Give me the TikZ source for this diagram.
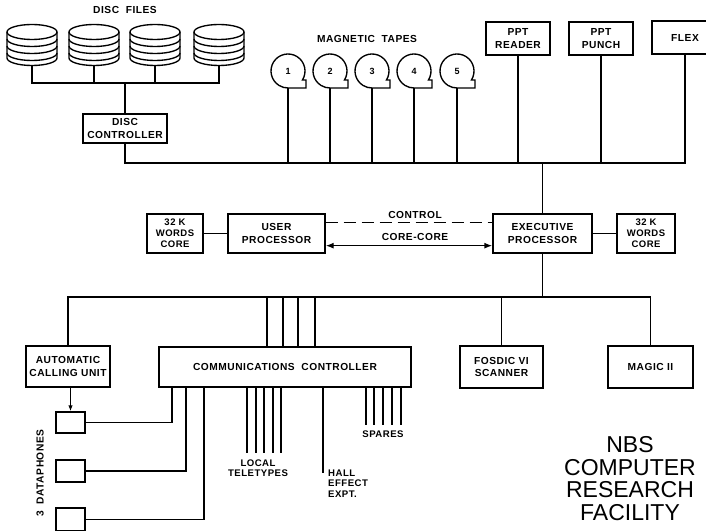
\documentclass[tikz,border=0pt]{standalone}
\usepackage{fontspec}
\setmainfont{Liberation Sans}
\newfontfamily\letfam{Liberation Sans}[LetterSpace=5.0]
\usetikzlibrary{arrows.meta,calc}
\newcommand\lblf{\letfam\bfseries\fontsize{10.2}{12.2}\selectfont}
\newcommand\smlf{\letfam\bfseries\fontsize{9.5}{11.2}\selectfont}
\newcommand\tinyf{\letfam\bfseries\fontsize{9.6}{10.5}\selectfont}
\newcommand\numf{\bfseries\fontsize{9}{10}\selectfont}
\newcommand\bigf{\fontsize{23}{22.8}\selectfont}
\begin{document}
\begin{tikzpicture}[x=1pt,y=1pt,
  ln/.style={line width=1.35pt},
  thin ln/.style={line width=1.2pt},
  box/.style={draw, line width=1.35pt, align=center, inner sep=0pt, font=\lblf},
  lbl/.style={inner sep=0pt, align=center, font=\lblf}]
\useasboundingbox (0,0) rectangle (706,530);
\coordinate (mb) at (0,367);
\coordinate (lb) at (0,233);

% ---------- disc files ----------
\node[lbl] (dfl) at (125,520) {DISC\ \ FILES};
\foreach \cx [count=\i] in {32,94,155,219}{
  \draw[ln, fill=white] (\cx-25,498) -- (\cx-25,472)
     arc[start angle=180,end angle=360,x radius=25,y radius=7.5] -- (\cx+25,498);
  \draw[ln] (\cx,498) ellipse[x radius=25,y radius=7.5];
  \foreach \yy in {491,484,477}
    \draw[ln] (\cx-25,\yy) arc[start angle=180,end angle=360,x radius=25,y radius=7.5];
  \coordinate (d\i) at (\cx,464.5);
}
\coordinate (dbus) at (125,447);
\node[box, minimum width=84pt, minimum height=29pt] (discctl) at (125,401.5) {DISC\\CONTROLLER};
\draw[ln] (d1) -- (d1 |- dbus) -- (d4 |- dbus) -- (d4);
\draw[ln] (d2) -- (d2 |- dbus);
\draw[ln] (d3) -- (d3 |- dbus);
\draw[ln] (dbus) -- (discctl.north);

% ---------- magnetic tapes ----------
\node[lbl] (mtl) at (367,491) {MAGNETIC\ \ TAPES};
\foreach \cx [count=\i] in {288,330,372,414,457}{
  \draw[ln] (\cx,442) -- ++(18,0) -- ++(0,8) -- ($(\cx,459)+(-32:17)$)
     arc[start angle=-32,end angle=270,radius=17];
  \node[font=\numf, inner sep=0pt] (tn\i) at (\cx,459) {\i};
  \coordinate (t\i) at (\cx,442);
  \draw[ln] (t\i) -- (t\i |- mb);
}

% ---------- paper tape, flex ----------
\node[box, minimum width=64pt, minimum height=33pt] (pptr) at (518,491.5) {PPT\\READER};
\node[box, minimum width=64pt, minimum height=33pt] (pptp) at (601,491.5) {PPT\\PUNCH};
\node[box, minimum width=66pt, minimum height=33pt] (flex) at (685,492.5) {FLEX};
\draw[ln] (pptr.south) -- (pptr.south |- mb);
\draw[ln] (pptp.south) -- (pptp.south |- mb);

% main bus
\draw[ln] (discctl.south) -- (discctl.south |- mb) -- (flex.south |- mb) -- (flex.south);

% ---------- processors ----------
\node[box, font=\smlf, minimum width=56pt, minimum height=39pt] (core1) at (175,296.5) {32 K\\WORDS\\CORE};
\node[box, minimum width=97pt, minimum height=39pt] (user) at (276.5,296.5) {USER\\PROCESSOR};
\node[box, minimum width=99pt, minimum height=39pt] (exec) at (542.5,296.5) {EXECUTIVE\\PROCESSOR};
\node[box, font=\smlf, minimum width=58pt, minimum height=39pt] (core2) at (646,296.5) {32 K\\WORDS\\CORE};
\draw[ln] (exec.north) -- (exec.north |- mb);
\draw[ln] (core1) -- (user);
\draw[ln] (exec) -- (core2);
\draw[ln, dash pattern=on 12pt off 6pt] ($(user.north east)+(0,-9)$) -- ($(exec.north west)+(0,-9)$);
\draw[ln, <->, >={Latex[length=8pt,width=6pt]}] ($(user.south east)+(0,8)$) -- ($(exec.south west)+(0,8)$);
\node[lbl] (ctl) at (415,315) {CONTROL};
\node[lbl] (cc) at (415,293) {CORE-CORE};

% ---------- lower level ----------
\node[box, minimum width=84pt, minimum height=41pt] (acu) at (68,163.5) {AUTOMATIC\\CALLING UNIT};
\node[box, minimum width=252pt, minimum height=40pt] (comm) at (285,163) {COMMUNICATIONS\ \ CONTROLLER};
\node[box, minimum width=83pt, minimum height=42pt] (fosdic) at (501.5,163) {FOSDIC VI\\SCANNER};
\node[box, minimum width=85pt, minimum height=42pt] (magic) at (650.5,163) {MAGIC II};
\draw[ln] (exec.south) -- (exec.south |- lb);
\draw[ln] (acu.north) -- (acu.north |- lb) -- (magic.north |- lb) -- (magic.north);
\draw[ln] (fosdic.north) -- (fosdic.north |- lb);
\foreach \x in {267,283,298,315}
  \draw[ln] (\x,233) -- (comm.north -| \x,0);

% dataphones
\node[box, minimum width=29pt, minimum height=21pt] (dp1) at (70.5,107.5) {};
\node[box, minimum width=29pt, minimum height=22pt] (dp2) at (70.5,59) {};
\node[box, minimum width=29pt, minimum height=23pt] (dp3) at (70.5,10.5) {};
\draw[ln, -{Latex[length=6pt,width=4.5pt]}] (acu.south -| dp1) -- (dp1.north);
\draw[ln] (dp1.east) -| (comm.south -| 172,0);
\draw[ln] (dp2.east) -| (comm.south -| 186,0);
\draw[ln] (dp3.east) -| (comm.south -| 204,0);
\node[lbl, rotate=90] (dpl) at (40,57) {3\ \ DATAPHONES};

% teletypes, hall effect, spares
\foreach \x in {247,256,264,273,281}
  \draw[thin ln] (comm.south -| \x,0) -- (\x,77);
\node[inner sep=0pt, align=center, font=\tinyf] (ltt) at (258,62) {LOCAL\\TELETYPES};
\draw[thin ln] (comm.south -| 323,0) -- (323,57);
\node[inner sep=0pt, align=left, font=\tinyf, anchor=north west] (hall) at (328,60.5) {HALL\\EFFECT\\EXPT.};
\foreach \x in {366,374,383,392,401}
  \draw[thin ln] (comm.south -| \x,0) -- (\x,105);
\node[inner sep=0pt, font=\tinyf] (spl) at (383,96) {SPARES};

% title
\node[inner sep=0pt, align=center, font=\bigf, anchor=north] (title) at (630,94) {NBS\\COMPUTER\\RESEARCH\\FACILITY};
\end{tikzpicture}
\end{document}
